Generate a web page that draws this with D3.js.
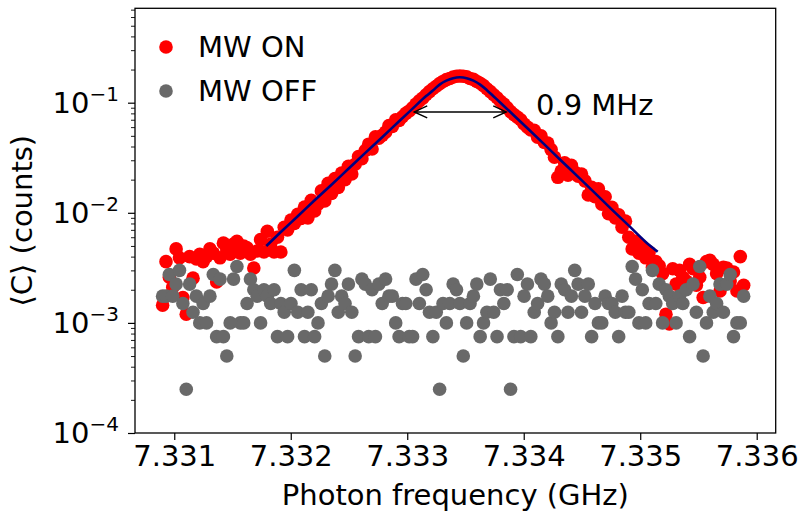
<!DOCTYPE html>
<html>
<head>
<meta charset="utf-8">
<script src="https://cdn.jsdelivr.net/npm/d3@7"></script>
<style>
  body { margin: 0; background: #fff; }
  text { font-family: "DejaVu Sans", sans-serif; fill: #000; }
</style>
</head>
<body>
<svg id="chart" width="801" height="513"></svg>
<script>
// Frequency sweep (GHz), same grid for both traces
const freqStart = 7.3309;
const freqStep = 0.000029;

// Mean counts, stored in units of 1e-3
const mwOn = [
  1.45, 3.6, 2.6, 2.1, 4.7, 3.9, 1.7, 1.2, 4.0, 2.55,
  3.8, 4.2, 3.6, 4.0, 4.7, 4.3, 2.35, 3.9, 5.3, 4.6,
  4.2, 5.2, 5.5, 4.3, 5.0, 4.8, 4.2, 3.15, 4.5, 5.7,
  4.4, 6.8, 5.2, 4.4, 6.0, 4.4, 7.4, 7.0, 8.6, 8.0,
  9.7, 8.9, 11.3, 9.0, 13.0, 10.4, 12.0, 15.8, 12.8, 18.5,
  15.0, 20.5, 17.0, 23.0, 20.0, 26.5, 22.5, 27.6, 32.5, 31.0,
  36.8, 42, 38.0, 49, 47.5, 50.5, 54.0, 62, 61.0, 70,
  69, 74.5, 80, 84, 90, 97, 104, 110, 118, 126,
  134, 141, 149, 156, 162, 166, 171, 174, 175, 174,
  172, 166, 163, 156, 150, 143, 134, 126, 118, 111,
  103, 97, 90, 83, 78, 74, 70, 64, 60, 56.5,
  56, 48.5, 50, 43.5, 43, 37.5, 32, 21, 24, 28.5,
  22, 27, 23.5, 21.5, 22.5, 19.5, 14.5, 17, 14, 16.5,
  12, 14, 9.8, 11.2, 9, 9.6, 7.4, 8.4, 6, 4.7,
  5.5, 4.3, 4.9, 3.9, 4.4, 3.2, 3.6, 3.3, 2.8, 1.2,
  0.98, 3.1, 2.25, 3.0, 2.6, 2.4, 3.4, 3.1, 2.2, 2.6,
  1.7, 3.6, 3.7, 3.4, 2.8, 1.95, 3.2, 3.15, 2.4, 2.9,
  1.95, 4.0, 2.2
];
const mwOff = [
  1.75, 1.75, 2.75, 1.75, 2.25, 3.0, 1.5, 0.25, 2.25, 1.25,
  1.75, 1.0, 1.5, 1.0, 1.75, 2.75, 0.75, 2.5, 0.75, 0.5,
  1.0, 2.5, 3.25, 1.0, 1.0, 1.5, 2.5, 2.0, 1.75, 1.0,
  2.0, 1.75, 1.5, 2.0, 0.75, 1.5, 1.25, 0.75, 1.5, 3.0,
  1.25, 2.0, 0.75, 1.25, 2.0, 0.75, 1.0, 1.5, 0.5, 1.75,
  2.25, 3.0, 1.25, 1.75, 1.5, 2.25, 1.25, 0.5, 0.75, 2.5,
  2.25, 0.75, 2.0, 0.75, 2.25, 1.5, 2.5, 1.75, 1.75, 1.0,
  0.75, 1.5, 1.5, 0.75, 0.75, 2.5, 1.5, 2.75, 2.0, 1.25,
  0.75, 1.25, 0.25, 1.5, 1.0, 1.5, 2.25, 2.0, 1.5, 0.5,
  1.0, 1.5, 1.75, 2.25, 0.75, 1.0, 1.25, 2.5, 1.25, 0.75,
  2.0, 1.5, 2.0, 0.25, 0.75, 2.75, 0.75, 1.75, 2.25, 0.75,
  1.25, 1.5, 2.5, 2.25, 1.75, 1.0, 1.25, 0.75, 2.25, 2.0,
  1.25, 1.75, 3.0, 2.25, 1.25, 1.75, 2.25, 0.75, 1.5, 1.0,
  1.0, 1.75, 1.5, 1.5, 1.25, 0.75, 1.75, 1.25, 1.25, 3.25,
  2.5, 1.0, 2.0, 1.0, 1.5, 3.0, 1.5, 2.25, 1.0, 2.0,
  1.75, 1.5, 1.0, 1.75, 1.5, 2.0, 0.75, 2.25, 1.25, 3.25,
  0.5, 1.0, 1.75, 1.25, 1.5, 2.25, 1.25, 2.25, 2.75, 0.75,
  1.0, 1.0, 1.75
];

// Fitted line (GHz, units of 1e-3)
const fitFreq = [
  7.33179, 7.331915, 7.33206, 7.332205, 7.33235, 7.332495, 7.33264, 7.332785,
  7.33293, 7.333046, 7.333162, 7.33322, 7.333278, 7.333336, 7.333394, 7.333452,
  7.33351, 7.333568, 7.333626, 7.333684, 7.333742, 7.3338, 7.333916, 7.334032,
  7.334177, 7.334322, 7.334467, 7.334612, 7.334757, 7.334902, 7.335047, 7.33515
];
const fitVal = [
  5.0, 6.69, 9.31, 13.0, 18.0, 25.1, 35.0, 48.6,
  67.8, 88.3, 115, 129, 146, 158.5, 167, 170,
  167, 158.5, 146, 130, 114, 100, 76.6, 58.6,
  41.8, 29.7, 21.2, 15.1, 10.7, 7.64, 5.44, 4.43
];

// Linewidth annotation
const fwhmFreq = [7.33306, 7.33385];
const fwhmLevel = 0.0824;
const fwhmLabel = '0.9 MHz';

const xTicks = [7.331, 7.332, 7.333, 7.334, 7.335, 7.336];
const yExponents = [-4, -3, -2, -1];
const seriesNames = ['MW ON', 'MW OFF'];
const seriesColors = ['#ff0000', '#696969'];

const unit = 1e-3;
const plot = { left: 135, right: 775.7, top: 8.3, bottom: 433 };
const fontSize = 29;
const dotR = 6.8;

const svg = d3.select('#chart');

const x = d3.scaleLinear()
  .domain([7.330663, 7.336163])
  .range([plot.left, plot.right]);
const y = d3.scaleLog()
  .domain([1e-4, 0.72])
  .range([plot.bottom, plot.top]);

const freqAt = i => freqStart + i * freqStep;
const onData = mwOn.map((v, i) => ({ f: freqAt(i), v: v * unit }));
const offData = mwOff.map((v, i) => ({ f: freqAt(i), v: v * unit }));
const fitData = fitFreq.map((f, i) => ({ f, v: fitVal[i] * unit }));

// clip so nothing spills over the frame
const defs = svg.append('defs');
defs.append('clipPath').attr('id', 'clip')
  .append('rect')
  .attr('x', plot.left).attr('y', plot.top)
  .attr('width', plot.right - plot.left)
  .attr('height', plot.bottom - plot.top);

const marks = svg.append('g').attr('clip-path', 'url(#clip)');

marks.append('g').selectAll('circle')
  .data(onData)
  .join('circle')
  .attr('cx', d => x(d.f))
  .attr('cy', d => y(d.v))
  .attr('r', dotR)
  .style('fill', seriesColors[0]);

marks.append('g').selectAll('circle')
  .data(offData)
  .join('circle')
  .attr('cx', d => x(d.f))
  .attr('cy', d => y(d.v))
  .attr('r', dotR)
  .style('fill', seriesColors[1]);

marks.append('path')
  .datum(fitData)
  .attr('d', d3.line().x(d => x(d.f)).y(d => y(d.v)).curve(d3.curveMonotoneX))
  .style('fill', 'none')
  .style('stroke', '#000080')
  .style('stroke-width', 2.6);

// double headed arrow for the linewidth (open chevrons at both ends)
defs.append('marker')
  .attr('id', 'head')
  .attr('viewBox', '-15 -8 17 16')
  .attr('refX', 0).attr('refY', 0)
  .attr('markerWidth', 17).attr('markerHeight', 16)
  .attr('markerUnits', 'userSpaceOnUse')
  .attr('orient', 'auto-start-reverse')
  .append('path')
  .attr('d', 'M-13,-6 L0,0 L-13,6')
  .style('fill', 'none')
  .style('stroke', '#000')
  .style('stroke-width', 1.4);

svg.append('line')
  .attr('x1', x(fwhmFreq[0])).attr('x2', x(fwhmFreq[1]))
  .attr('y1', y(fwhmLevel)).attr('y2', y(fwhmLevel))
  .style('stroke', '#000')
  .style('stroke-width', 1.4)
  .attr('marker-start', 'url(#head)')
  .attr('marker-end', 'url(#head)');

svg.append('text')
  .attr('x', 536)
  .attr('y', 115)
  .style('font-size', fontSize + 'px')
  .text(fwhmLabel);

// x axis
const xAxis = svg.append('g')
  .attr('transform', `translate(0,${plot.bottom})`)
  .call(d3.axisBottom(x).tickValues(xTicks).tickFormat(d3.format('.3f'))
    .tickSize(7).tickPadding(5).tickSizeOuter(0));
xAxis.select('.domain').remove();
xAxis.selectAll('.tick line').style('stroke', '#000').style('stroke-width', 1.2);
xAxis.selectAll('.tick text')
  .attr('font-family', null)
  .style('font-size', fontSize + 'px');

// y axis major ticks
const yMajor = yExponents.map(e => Math.pow(10, e));
const yAxis = svg.append('g')
  .attr('transform', `translate(${plot.left},0)`)
  .call(d3.axisLeft(y).tickValues(yMajor).tickFormat('').tickSize(7).tickSizeOuter(0));
yAxis.select('.domain').remove();
yAxis.selectAll('.tick line').style('stroke', '#000').style('stroke-width', 1.2);

// minor ticks
const yMinor = [];
yExponents.forEach(e => {
  for (let k = 2; k <= 9; k++) {
    const v = k * Math.pow(10, e);
    if (v <= y.domain()[1]) yMinor.push(v);
  }
});
svg.append('g')
  .attr('transform', `translate(${plot.left},0)`)
  .call(d3.axisLeft(y).tickValues(yMinor).tickFormat('').tickSize(4).tickSizeOuter(0))
  .call(g => g.select('.domain').remove())
  .selectAll('.tick line').style('stroke', '#000').style('stroke-width', 0.9);

// y tick labels as 10 with superscript exponent
const yLab = svg.append('g');
yExponents.forEach(e => {
  const t = yLab.append('text')
    .attr('x', plot.left - 16)
    .attr('y', y(Math.pow(10, e)) + 10)
    .attr('text-anchor', 'end')
    .style('font-size', fontSize + 'px');
  t.append('tspan').text('10');
  t.append('tspan')
    .attr('dy', -12)
    .style('font-size', Math.round(fontSize * 0.7) + 'px')
    .text('\u2212' + Math.abs(e));
});

// frame
svg.append('rect')
  .attr('x', plot.left).attr('y', plot.top)
  .attr('width', plot.right - plot.left)
  .attr('height', plot.bottom - plot.top)
  .style('fill', 'none')
  .style('stroke', '#000')
  .style('stroke-width', 1.3);

// axis titles
svg.append('text')
  .attr('x', (plot.left + plot.right) / 2)
  .attr('y', 505)
  .attr('text-anchor', 'middle')
  .style('font-size', fontSize + 'px')
  .text('Photon frequency (GHz)');

svg.append('text')
  .attr('transform', `translate(32,${(plot.top + plot.bottom) / 2}) rotate(-90)`)
  .attr('text-anchor', 'middle')
  .style('font-size', fontSize + 'px')
  .text('\u27E8C\u27E9 (counts)');

// legend
const legend = svg.append('g');
seriesNames.forEach((name, i) => {
  const cy = 47 + i * 44;
  legend.append('circle')
    .attr('cx', 166).attr('cy', cy).attr('r', dotR)
    .style('fill', seriesColors[i]);
  legend.append('text')
    .attr('x', 198).attr('y', cy + 10)
    .style('font-size', fontSize + 'px')
    .text(name);
});
</script>
</body>
</html>
